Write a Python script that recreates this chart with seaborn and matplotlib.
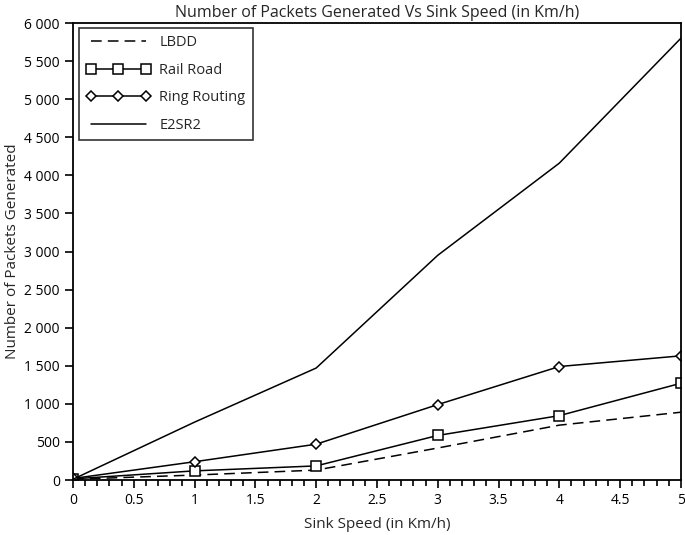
import numpy as np
import pandas as pd
import matplotlib
matplotlib.use("Agg")
import matplotlib.pyplot as plt
import matplotlib.ticker as mticker
import seaborn as sns

# Values
speed = [0, 1, 2, 3, 4, 5]
lbdd = [10, 65, 130, 420, 720, 890]
rail_road = [15, 120, 185, 585, 845, 1270]
ring_routing = [20, 240, 470, 990, 1490, 1630]
e2sr2 = [10, 760, 1470, 2950, 4160, 5800]

series = {
    "LBDD": lbdd,
    "Rail Road": rail_road,
    "Ring Routing": ring_routing,
    "E2SR2": e2sr2,
}
df = pd.concat(
    [pd.DataFrame({"speed": speed, "packets": v, "protocol": k}) for k, v in series.items()],
    ignore_index=True,
)

sns.set_style("white", {"xtick.bottom": True, "ytick.left": True})
plt.rcParams["font.family"] = ["Open Sans", "DejaVu Sans"]

fig = plt.figure(figsize=(6.85, 5.35), dpi=100)
ax = fig.add_axes([0.1066, 0.1028, 0.8874, 0.8542])

styles = {
    "LBDD": dict(linestyle=(0, (7, 4)), marker=None),
    "Rail Road": dict(linestyle="-", marker="s", markersize=7),
    "Ring Routing": dict(linestyle="-", marker="D", markersize=5.5),
    "E2SR2": dict(linestyle="-", marker=None),
}
for name in series:
    sub = df[df["protocol"] == name]
    sns.lineplot(data=sub, x="speed", y="packets", ax=ax, color="black", linewidth=1.1,
                 markerfacecolor="white", markeredgecolor="black", markeredgewidth=1.1,
                 label=name, **styles[name])

ax.set_xlim(0, 5)
ax.set_ylim(0, 6000)
ax.xaxis.set_major_locator(mticker.MultipleLocator(0.5))
ax.xaxis.set_minor_locator(mticker.MultipleLocator(0.1))
ax.yaxis.set_major_locator(mticker.MultipleLocator(500))
ax.yaxis.set_minor_locator(mticker.NullLocator())
ax.xaxis.set_major_formatter(mticker.FuncFormatter(lambda v, p: f"{v:g}"))
ax.yaxis.set_major_formatter(mticker.FuncFormatter(lambda v, p: f"{int(v):,}".replace(",", " ")))
ax.tick_params(axis="both", which="major", direction="out", length=6, width=1.2,
               labelsize=10, colors="black", bottom=True, left=True, top=False, right=False)
ax.tick_params(axis="x", which="minor", direction="out", length=4, width=1.2,
               color="black", bottom=True, top=False)
for s in ax.spines.values():
    s.set_color("black")
    s.set_linewidth(1.3)

ax.set_xlabel("Sink Speed (in Km/h)", fontsize=11, labelpad=6)
ax.set_ylabel("Number of Packets Generated", fontsize=11)
ax.yaxis.set_label_coords(-0.088, 0.5)
ax.set_title("Number of Packets Generated Vs Sink Speed (in Km/h)", fontsize=11.5, pad=4)

leg = ax.legend(loc="upper left", bbox_to_anchor=(0.005, 0.995), handlelength=4.4,
                numpoints=3, fontsize=10.5, frameon=True, fancybox=False,
                borderaxespad=0.2, labelspacing=0.85, handletextpad=0.6, borderpad=0.5)
leg.get_frame().set_edgecolor("black")
leg.get_frame().set_linewidth(1.2)

fig.savefig("out.png", dpi=100)
